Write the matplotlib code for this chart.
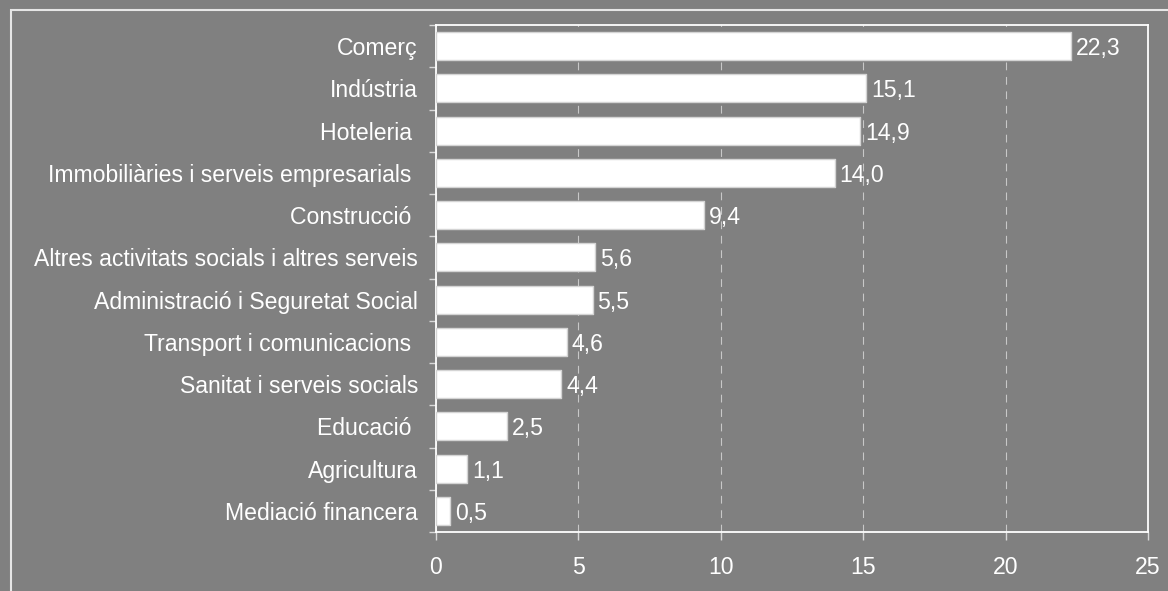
import matplotlib.pyplot as plt
from matplotlib.patches import Rectangle
from matplotlib.ticker import FixedLocator

plt.rcParams['font.family'] = ['Liberation Sans', 'DejaVu Sans']

# sectors, top to bottom as in the chart
sectors = ['Comerç', 'Indústria', 'Hoteleria ', 'Immobiliàries i serveis empresarials ',
           'Construcció ', 'Altres activitats socials i altres serveis',
           'Administració i Seguretat Social', 'Transport i comunicacions ',
           'Sanitat i serveis socials', 'Educació ', 'Agricultura', 'Mediació financera']
values = [22.3, 15.1, 14.9, 14.0, 9.4, 5.6, 5.5, 4.6, 4.4, 2.5, 1.1, 0.5]
xticks = [0, 5, 10, 15, 20, 25]

bg = '#808080'
fs = 16.6
fig = plt.figure(figsize=(11.68, 5.91), dpi=100, facecolor=bg)
ax = fig.add_axes([436 / 1168, 1 - 532 / 591, (1148 - 436) / 1168, (532 - 25) / 591])
ax.set_facecolor(bg)

# outer frame
fig.patches.append(Rectangle((11 / 1168, -0.1), 1.2, 1.1 - 10 / 591, transform=fig.transFigure,
                             fill=False, edgecolor='#e6e6e6', linewidth=1.5))

pos = list(range(len(sectors)))
ax.barh(pos, values, height=0.66, color='white', edgecolor='#d4d4d4', linewidth=1,
        joinstyle='round', zorder=3)
for p, v in zip(pos, values):
    ax.text(v + 0.17, p, f'{v:.1f}'.replace('.', ','), va='center_baseline', ha='left',
            color='white', fontsize=fs, zorder=4)

ax.set_xlim(0, 25)
ax.set_ylim(len(sectors) - 0.5, -0.5)
ax.set_xticks(xticks)
ax.set_xticklabels([str(t) for t in xticks])
ax.set_yticks(pos)
ax.set_yticklabels(sectors, va='center_baseline')
ax.yaxis.set_minor_locator(FixedLocator([p + 0.5 for p in range(-1, len(sectors))]))

ax.tick_params(axis='y', which='major', length=0, pad=13, labelsize=fs, labelcolor='white')
ax.tick_params(axis='y', which='minor', length=5, width=1, color='#d8d8d8')
ax.tick_params(axis='x', which='major', length=5.5, width=1, color='#d8d8d8',
               pad=12, labelsize=fs, labelcolor='white')

ax.grid(axis='x', color='#c8c8c8', linestyle=(0, (7, 6)), linewidth=0.8, zorder=1)
ax.set_axisbelow(True)
for s in ax.spines.values():
    s.set_color('white')
    s.set_linewidth(1.3)

fig.savefig('out.png', dpi=100, facecolor=bg)
